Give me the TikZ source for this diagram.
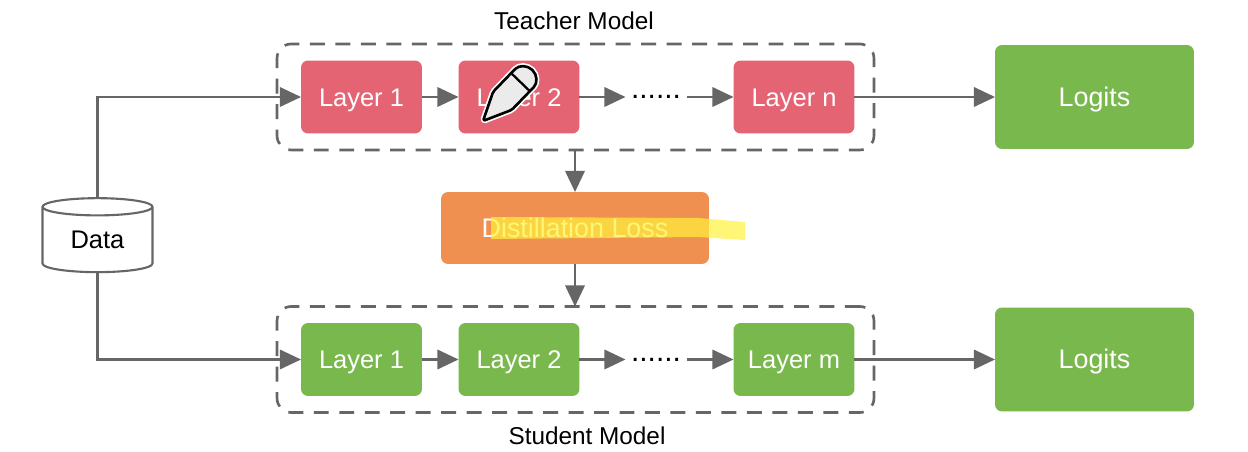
\documentclass[tikz,border=0pt]{standalone}
\usepackage{fontspec}
\setmainfont{Liberation Sans}
\usetikzlibrary{arrows.meta,shapes.geometric}

\definecolor{rred}{HTML}{E46474}
\definecolor{rgreen}{HTML}{79B84C}
\definecolor{rorange}{HTML}{F09050}
\definecolor{rgrey}{HTML}{666666}
\definecolor{ryellow}{HTML}{FFF23C}

\tikzset{
  layerbox/.style={rounded corners=4pt,text=white,font=\fontsize{14.5}{16}\selectfont,
    text height=10.4pt,text depth=0pt,
    minimum width=2.42cm,minimum height=1.46cm,inner sep=0pt,outer sep=0pt},
  logitsbox/.style={layerbox,fill=rgreen,font=\fontsize{15.3}{16}\selectfont,
    minimum width=3.98cm,minimum height=2.08cm},
  modelbox/.style={draw=rgrey,line width=1.5pt,rounded corners=8pt,dash pattern=on 8.5pt off 6pt,
    minimum width=11.94cm,minimum height=2.12cm,inner sep=0pt,outer sep=0pt},
  dotsbox/.style={font=\fontsize{17}{17}\selectfont,minimum width=1.22cm,minimum height=0pt,
    inner sep=0pt,outer sep=0pt},
  caption/.style={font=\fontsize{13.85}{16}\selectfont,inner sep=0pt},
  flow/.style={draw=rgrey,line width=1.4pt,-{Triangle[length=12pt,width=11pt]}}
}

\begin{document}
\begin{tikzpicture}[x=0.02cm,y=0.02cm]
  \useasboundingbox[fill=white] (0,0) rectangle (1248,-452);

  \node[modelbox] (teacher) at (575.5,-97) {};
  \node[modelbox] (student) at (575.5,-359.5) {};
  \node[caption] (tname) at (574,-21) {Teacher Model};
  \node[caption] (sname) at (587,-436) {Student Model};

  \node[layerbox,fill=rred] (t1) at (361.5,-97) {Layer 1};
  \node[layerbox,fill=rred] (t2) at (519,-97) {Layer 2};
  \node[dotsbox] (tdots) at (656,-97) {......};
  \node[layerbox,fill=rred] (tn) at (794,-97) {Layer n};
  \node[logitsbox] (tlogits) at (1094.5,-97) {Logits};

  \node[layerbox,fill=rgreen] (s1) at (361.5,-359.5) {Layer 1};
  \node[layerbox,fill=rgreen] (s2) at (519,-359.5) {Layer 2};
  \node[dotsbox] (sdots) at (656,-359.5) {......};
  \node[layerbox,fill=rgreen] (sm) at (794,-359.5) {Layer m};
  \node[logitsbox] (slogits) at (1094.5,-359.5) {Logits};

  \node[layerbox,fill=rorange,font=\fontsize{15.3}{16}\selectfont,minimum width=5.36cm,minimum height=1.44cm] (loss) at (575,-228) {Distillation Loss};

  \node[draw=rgrey,fill=white,line width=1.2pt,shape=cylinder,shape border rotate=90,aspect=0.32,
    minimum width=2.2cm,minimum height=1.48cm,inner sep=0pt,outer sep=0pt,
    font=\fontsize{14.5}{16}\selectfont] (data) at (97.5,-240) {Data};

  \draw[flow] (data.north) |- (t1);
  \draw[flow] (data.south) |- (s1);

  \draw[flow] (t1) -- (t2);
  \draw[flow] (t2) -- (tdots);
  \draw[flow] (tdots) -- (tn);
  \draw[flow] (tn) -- (tlogits);
  \draw[flow] (s1) -- (s2);
  \draw[flow] (s2) -- (sdots);
  \draw[flow] (sdots) -- (sm);
  \draw[flow] (sm) -- (slogits);

  \draw[flow] (teacher.south -| loss.north) -- (loss.north);
  \draw[flow] (loss.south) -- (student.north -| loss.south);

  % marker stroke and pencil on top of the slide
  \fill[ryellow,opacity=0.7] (491,-217) -- (698,-218) -- (745,-222) -- (745,-240) -- (698,-237) -- (491,-239) -- cycle;
  \begin{scope}[shift={(483,-121)},rotate=46]
    \draw[white,fill=white,line width=3.4pt,line join=round,rounded corners=1pt] (0,0) -- (28,-13) -- (58,-13) arc (-90:90:13) -- (28,13) -- cycle;
    \draw[black,fill=white!92!black,line width=1.5pt,line join=round,rounded corners=1pt] (0,0) -- (28,-13) -- (58,-13) arc (-90:90:13) -- (28,13) -- cycle;
    \draw[black,line width=1.3pt] (54,-13) -- (54,13);
  \end{scope}
\end{tikzpicture}
\end{document}
